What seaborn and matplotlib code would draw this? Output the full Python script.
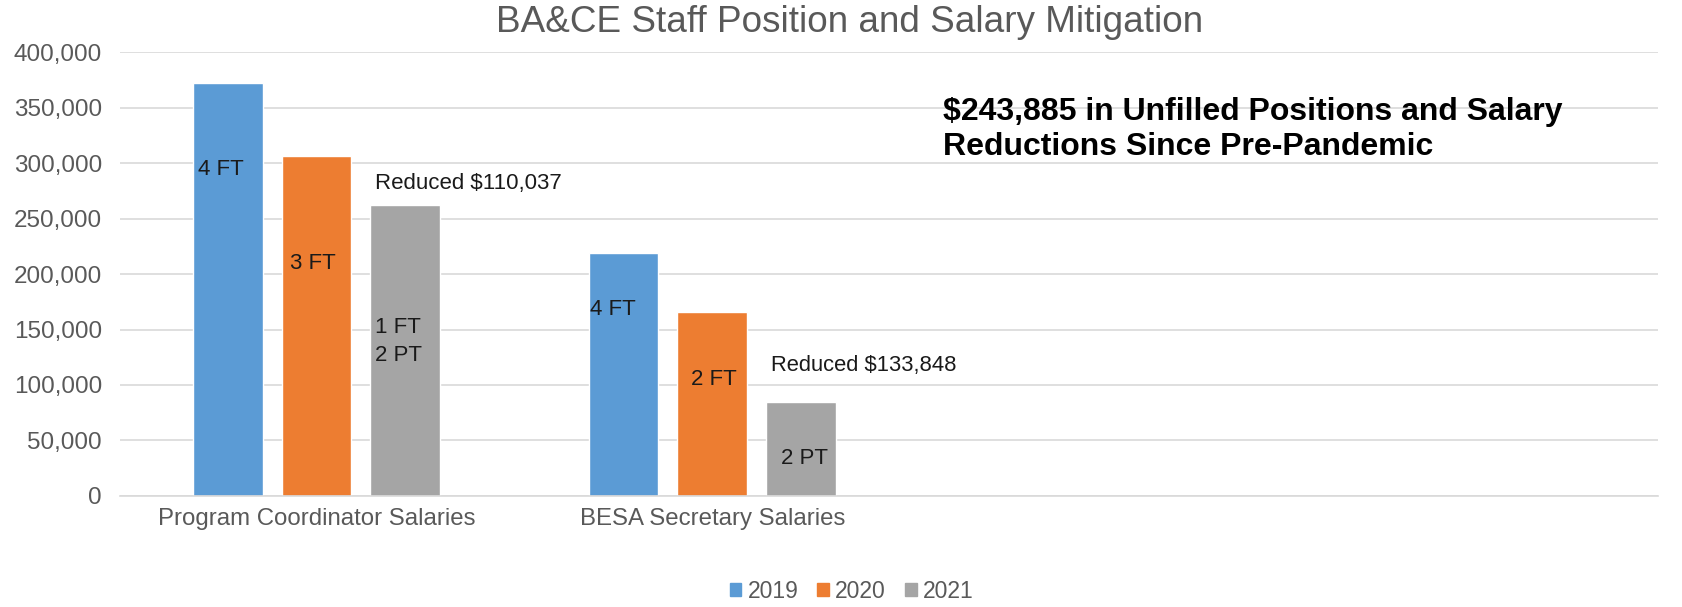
import matplotlib.pyplot as plt
import pandas as pd
import seaborn as sns

# data
categories = ["Program Coordinator Salaries", "BESA Secretary Salaries"]
years = ["2019", "2020", "2021"]
salaries_2019 = [372400, 218700]
salaries_2020 = [306100, 166100]
salaries_2021 = [262363, 84852]
staff_labels = [["4 FT", "4 FT"], ["3 FT", "2 FT"], ["1 FT\n2 PT", "2 PT"]]
reduction_labels = ["Reduced $110,037", "Reduced $133,848"]
summary_text = "$243,885 in Unfilled Positions and Salary\nReductions Since Pre-Pandemic"
title = "BA&CE Staff Position and Salary Mitigation"

colors = ["#5B9BD5", "#ED7D31", "#A5A5A5"]

rows = []
for yr, vals in zip(years, [salaries_2019, salaries_2020, salaries_2021]):
    for cat, v in zip(categories, vals):
        rows.append({"Category": cat, "Year": yr, "Salary": v})
df = pd.DataFrame(rows)

sns.set_theme(style="white")
plt.rcParams["font.family"] = ["Liberation Sans", "DejaVu Sans"]

fig = plt.figure(figsize=(16.83, 6.07), dpi=100)
ax = fig.add_axes([0.0713, 0.183, 0.9137, 0.731])

# two blank slots on the right, as in the original chart
order = categories + [" ", "  "]
sns.barplot(
    data=df, x="Category", y="Salary", hue="Year", order=order,
    hue_order=years, palette=colors, width=0.672, gap=0.214,
    saturation=1, ax=ax, legend=True,
)

ax.set_ylim(0, 400000)
ax.set_xlim(-0.497, 3.39)
ax.set_yticks(range(0, 400001, 50000))
ax.yaxis.set_major_formatter(plt.FuncFormatter(lambda v, p: f"{int(v):,}"))
ax.grid(axis="y", color="#D9D9D9", linewidth=1.2)
ax.set_axisbelow(True)
for s in ["top", "right", "left"]:
    ax.spines[s].set_visible(False)
ax.spines["bottom"].set_color("#D9D9D9")
ax.spines["bottom"].set_linewidth(1.2)
ax.tick_params(axis="both", length=0, colors="#595959")
ax.tick_params(axis="y", labelsize=17.5, pad=13)
ax.tick_params(axis="x", labelsize=17.3, pad=9)
ax.set_xlabel("")
ax.set_ylabel("")

# labels inside the bars (fraction of bar height, x shift in bar widths)
label_frac = [[0.79, 0.77], [0.685, 0.63], [0.53, 0.40]]
label_shift = [[-0.1, -0.15], [-0.05, 0.03], [-0.1, 0.05]]
for j, cont in enumerate(ax.containers):
    for i, bar in enumerate(cont):
        w = bar.get_width()
        xc = bar.get_x() + w / 2 + label_shift[j][i] * w
        yv = bar.get_height() * label_frac[j][i]
        ax.text(xc, yv, staff_labels[j][i], ha="center", va="center",
                fontsize=16, color="#1a1a1a", linespacing=1.45)

# reduction annotations above the 2021 bars
red_offset = [19000, 33000]
red_size = [16, 15.8]
for i, bar in enumerate(ax.containers[2]):
    ax.text(bar.get_x() + 0.012, bar.get_height() + red_offset[i],
            reduction_labels[i], ha="left", va="center", fontsize=red_size[i],
            color="#1a1a1a")

ax.text(0.535, 0.826, summary_text, transform=ax.transAxes, ha="left",
        va="center", fontsize=23, fontweight="bold", color="black",
        linespacing=1.25)

fig.text(0.505, 0.963, title, ha="center", va="center", fontsize=26.6,
         color="#595959")

ax.legend_.remove()
handles = [plt.Rectangle((0, 0), 1, 1, color=c) for c in colors]
fig.legend(handles, years, loc="center", bbox_to_anchor=(0.506, 0.026),
           ncol=3, frameon=False, fontsize=16.5, handlelength=0.52,
           handleheight=0.52, handletextpad=0.26, columnspacing=0.83,
           labelcolor="#595959")

fig.savefig("out.png", dpi=100)
